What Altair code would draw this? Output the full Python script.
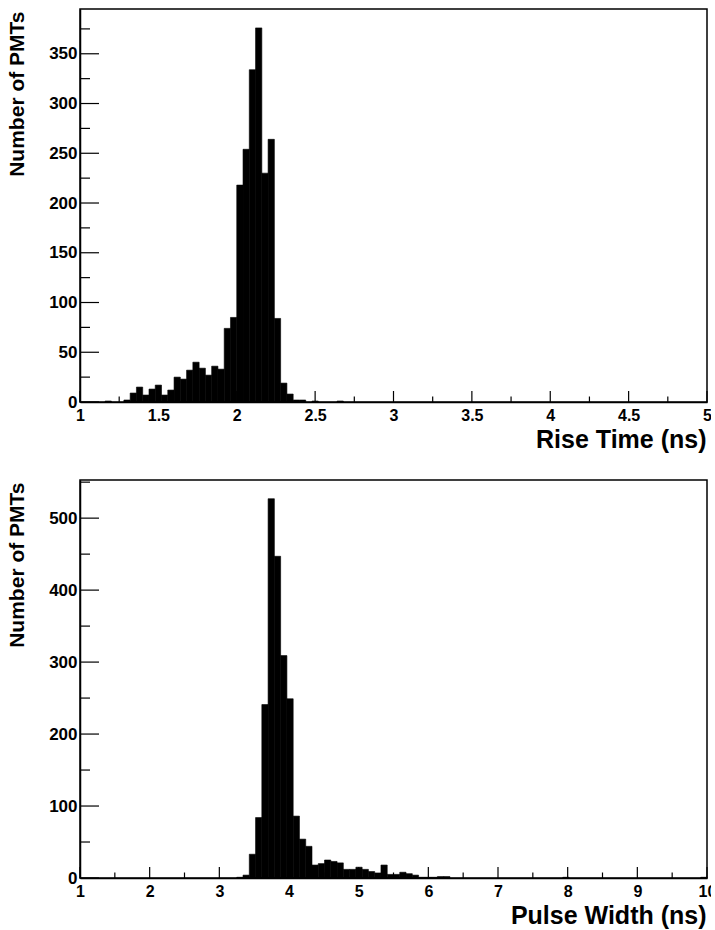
import altair as alt
import pandas as pd

# ---------------- data ----------------
# Rise time histogram: 100 bins from 1 to 5 ns
rise_counts = [
    0, 0, 0, 0, 1, 0, 0, 2, 9, 15,
    7, 13, 17, 7, 12, 25, 23, 32, 40, 34,
    27, 36, 33, 74, 85, 218, 254, 334, 376, 230,
    264, 84, 19, 8, 2, 2, 0, 1, 0, 0,
    0, 1, 0, 0, 0, 0, 0, 0, 0, 0,
    0, 0, 0, 0, 0, 0, 0, 0, 0, 0,
    0, 0, 0, 0, 0, 0, 0, 0, 0, 0,
    0, 0, 0, 0, 0, 0, 0, 0, 0, 0,
    0, 0, 0, 0, 0, 0, 0, 0, 0, 0,
    0, 0, 0, 0, 0, 0, 0, 0, 0, 0,
]
# Pulse width histogram: 100 bins from 1 to 10 ns
pulse_counts = [
    0, 0, 0, 0, 0, 0, 0, 0, 0, 0,
    0, 0, 0, 0, 0, 0, 0, 0, 0, 0,
    0, 0, 0, 0, 0, 1, 4, 33, 84, 241,
    527, 447, 309, 249, 86, 54, 44, 18, 20, 25,
    23, 21, 12, 12, 15, 12, 9, 7, 18, 5,
    5, 8, 6, 4, 1, 1, 1, 2, 2, 0,
    0, 0, 0, 0, 0, 0, 0, 0, 0, 0,
    0, 0, 0, 0, 0, 0, 0, 1, 0, 0,
    0, 0, 0, 0, 0, 0, 0, 0, 0, 0,
    0, 0, 0, 0, 0, 0, 0, 0, 0, 1,
]

rise_range = [1.0, 5.0]
pulse_range = [1.0, 10.0]
rise_ymax = 395
pulse_ymax = 553

rise_major_x = [1, 1.5, 2, 2.5, 3, 3.5, 4, 4.5, 5]
rise_minor_x = [1.25, 1.75, 2.25, 2.75, 3.25, 3.75, 4.25, 4.75]
rise_major_y = [0, 50, 100, 150, 200, 250, 300, 350]
rise_minor_y = [25, 75, 125, 175, 225, 275, 325, 375]

pulse_major_x = [1, 2, 3, 4, 5, 6, 7, 8, 9, 10]
pulse_minor_x = [1.5, 2.5, 3.5, 4.5, 5.5, 6.5, 7.5, 8.5, 9.5]
pulse_major_y = [0, 100, 200, 300, 400, 500]
pulse_minor_y = [50, 150, 250, 350, 450, 550]

FONT = "Liberation Sans"
W = 627


def hist_df(counts, rng):
    n = len(counts)
    w = (rng[1] - rng[0]) / n
    return pd.DataFrame({
        "lo": [rng[0] + i * w for i in range(n)],
        "hi": [rng[0] + (i + 1) * w for i in range(n)],
        "count": counts,
        "base": [0] * n,
    })


def panel(counts, rng, ymax, xmaj, xmin, ymaj, ymin, xtitle, xfmt, H):
    xs = alt.Scale(domain=rng, nice=False, zero=False)
    ys = alt.Scale(domain=[0, ymax], nice=False)
    xaxis = alt.Axis(
        values=xmaj, format=xfmt, title=xtitle,
        labelPadding=5, labelFontSize=16, labelFlush=False,
        titleX=W - 1, titleY=45, titleAlign="right",
        titleBaseline="alphabetic", titleFontSize=25,
    )
    yaxis = alt.Axis(
        values=ymaj, title="Number of PMTs", format="d",
        labelPadding=3, labelFontSize=17, labelFlush=False,
        titleAngle=270, titleX=-57, titleY=2, titleAlign="right",
        titleBaseline="alphabetic", titleFontSize=21,
    )
    bars = alt.Chart(hist_df(counts, rng)).transform_filter(
        "datum.count > 0"
    ).mark_rect(color="black", stroke="black", strokeWidth=0.6).encode(
        x=alt.X("lo:Q", scale=xs, axis=xaxis),
        x2="hi:Q",
        y=alt.Y("count:Q", scale=ys, axis=yaxis),
        y2="base:Q",
    )

    def xticks(vals, length):
        return alt.Chart(pd.DataFrame({"v": vals})).mark_rule(
            color="black", strokeWidth=1.2
        ).encode(
            x=alt.X("v:Q", scale=xs, axis=xaxis),
            y=alt.value(H),
            y2=alt.value(H - length),
        )

    def yticks(vals, length):
        return alt.Chart(pd.DataFrame({"v": vals})).mark_rule(
            color="black", strokeWidth=1.2
        ).encode(
            y=alt.Y("v:Q", scale=ys, axis=yaxis),
            x=alt.value(0),
            x2=alt.value(length),
        )

    return alt.layer(
        bars,
        xticks(xmaj, 11), xticks(xmin, 5.5),
        yticks(ymaj, 19), yticks(ymin, 10),
    ).properties(width=W, height=H)


top = panel(rise_counts, rise_range, rise_ymax, rise_major_x, rise_minor_x,
            rise_major_y, rise_minor_y, "Rise Time (ns)", "~g", 393)
bottom = panel(pulse_counts, pulse_range, pulse_ymax, pulse_major_x, pulse_minor_x,
               pulse_major_y, pulse_minor_y, "Pulse Width (ns)", "d", 398)

chart = alt.vconcat(top, bottom, spacing=78, bounds="flush").properties(
    padding={"left": 5, "top": 8, "right": -6, "bottom": 5},
    background="white",
).configure_view(
    stroke="black", strokeWidth=1.5,
).configure_axis(
    grid=False, ticks=False, tickSize=0,
    domainColor="black", domainWidth=1.5,
    labelFont=FONT, labelFontWeight="bold", labelColor="black",
    titleFont=FONT, titleFontWeight="bold", titleColor="black",
)

chart.save("out.html", embed_options={"renderer": "svg", "actions": False})
